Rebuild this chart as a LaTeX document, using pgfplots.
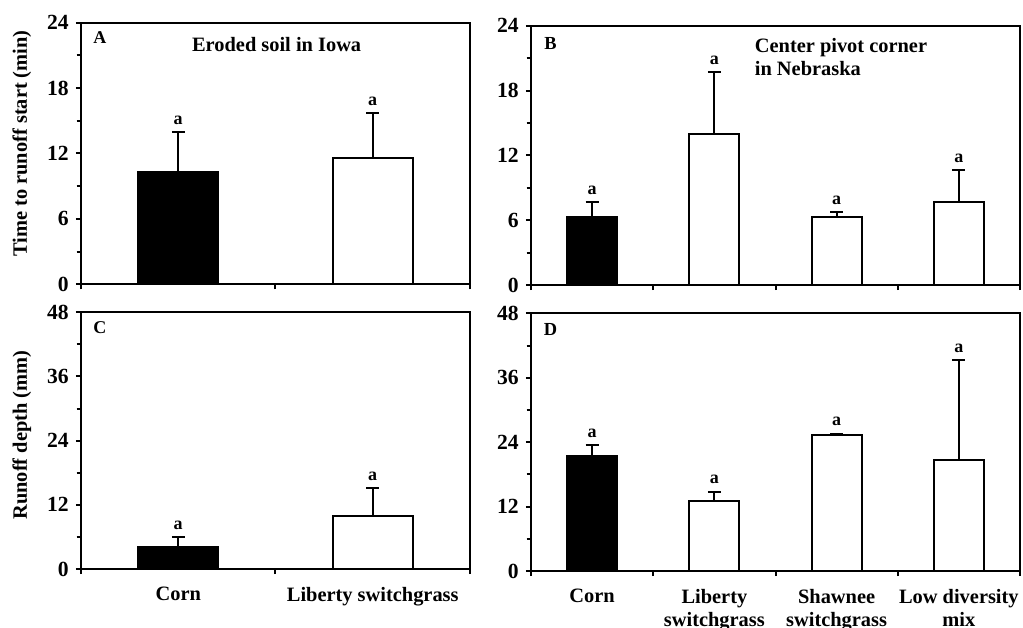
\documentclass[border=0pt]{standalone}
\usepackage{fontspec}
\setmainfont{Liberation Serif}
\usepackage{pgfplots}
\pgfplotsset{compat=1.18}

\newcommand{\tickfont}{\fontsize{10.8}{12}\selectfont\bfseries}
\newcommand{\txtfont}{\fontsize{10.2}{11.5}\selectfont\bfseries}

\pgfplotsset{
  panel/.style={
    scale only axis,
    clip=false,
    axis line style={line width=1pt},
    tick style={line width=1pt, black},
    tick align=outside,
    major tick length=2.6pt,
    minor tick length=2.2pt,
    xtick pos=bottom, ytick pos=left,
    minor y tick num=1,
    ymin=0,
    /pgf/number format/assume math mode=true,
    yticklabel style={font=\tickfont},
    xticklabels={},
    ylabel style={font=\txtfont, at={(axis description cs:-0.152,0.538)}, anchor=center},
    extra x tick style={major tick length=0pt, xticklabel style={font=\txtfont, align=center, anchor=north, yshift=-5.5pt}},
  },
  bars/.style={ybar, bar shift=0pt, line width=1pt, draw=black,
    error bars/y dir=plus, error bars/y explicit,
    error bars/error mark=-,
    error bars/error bar style={line width=1pt, black},
    error bars/error mark options={rotate=90, line width=1pt, mark size=3.2pt, black}},
  letters/.style={draw=none, mark=none, nodes near coords={a},
    every node near coord/.style={font=\fontsize{9}{10}\selectfont\bfseries, anchor=south, inner sep=0pt, yshift=3.5pt}},
}

\begin{document}
\begin{tikzpicture}
% Panel A
\begin{axis}[panel, at={(40.5pt,171.35pt)}, anchor=south west,
  width=194.5pt, height=130.8pt,
  xmin=-0.5, xmax=1.5, xtick={-0.5,0.5,1.5},
  ymax=24, ytick={0,6,12,18,24},
  ylabel={Time to runoff start (min)}]
\addplot[bars, bar width=40pt, fill=black] coordinates {(0,10.3) +- (0,3.65)};
\addplot[bars, bar width=40pt, fill=white] coordinates {(1,11.6) +- (0,4.1)};
\addplot[letters] coordinates {(0,13.95) (1,15.7)};
\node[anchor=north west, inner sep=0pt, font=\fontsize{9}{10}\selectfont\bfseries] at ([xshift=6pt,yshift=-4.5pt]rel axis cs:0,1) {A};
\node[anchor=center, inner sep=0pt, font=\txtfont] at (rel axis cs:0.503,0.915) {Eroded soil in Iowa};
\end{axis}

% Panel B
\begin{axis}[panel, at={(265.5pt,171pt)}, anchor=south west,
  width=244.5pt, height=129.65pt,
  xmin=-0.5, xmax=3.5, xtick={-0.5,0.5,1.5,2.5,3.5},
  ymax=24, ytick={0,6,12,18,24}]
\addplot[bars, bar width=25pt, fill=black] coordinates {(0,6.33) +- (0,1.39)};
\addplot[bars, bar width=25pt, fill=white] coordinates {(1,14.0) +- (0,5.7) (2,6.3) +- (0,0.43) (3,7.72) +- (0,2.94)};
\addplot[letters] coordinates {(0,7.72) (1,19.7) (2,6.73) (3,10.66)};
\node[anchor=north west, inner sep=0pt, font=\fontsize{9.2}{10}\selectfont\bfseries] at ([xshift=6.5pt,yshift=-5.5pt]rel axis cs:0,1) {B};
\node[anchor=north west, inner sep=0pt, align=left, font=\txtfont] at ([yshift=-6pt]rel axis cs:0.457,1) {Center pivot corner\\in Nebraska};
\end{axis}

% Panel C
\begin{axis}[panel, at={(40.5pt,29pt)}, anchor=south west,
  width=194.5pt, height=128.35pt,
  xmin=-0.5, xmax=1.5, xtick={-0.5,0.5,1.5},
  ymax=48, ytick={0,12,24,36,48},
  ylabel={Runoff depth (mm)},
  ylabel style={at={(axis description cs:-0.152,0.522)}},
  extra x ticks={0,1}, extra x tick labels={Corn,Liberty switchgrass}]
\addplot[bars, bar width=40pt, fill=black] coordinates {(0,4.18) +- (0,1.87)};
\addplot[bars, bar width=40pt, fill=white] coordinates {(1,9.86) +- (0,5.31)};
\addplot[letters] coordinates {(0,6.05) (1,15.17)};
\node[anchor=north west, inner sep=0pt, font=\fontsize{9}{10}\selectfont\bfseries] at ([xshift=6pt,yshift=-4.5pt]rel axis cs:0,1) {C};
\end{axis}

% Panel D
\begin{axis}[panel, at={(265.5pt,28pt)}, anchor=south west,
  width=244.5pt, height=128.85pt,
  xmin=-0.5, xmax=3.5, xtick={-0.5,0.5,1.5,2.5,3.5},
  ymax=48, ytick={0,12,24,36,48},
  extra x ticks={0,1,2,3},
  extra x tick labels={Corn,Liberty\\switchgrass,Shawnee\\switchgrass,Low diversity\\mix}]
\addplot[bars, bar width=25pt, fill=black] coordinates {(0,21.5) +- (0,2.0)};
\addplot[bars, bar width=25pt, fill=white] coordinates {(1,12.95) +- (0,1.85) (2,25.4) +- (0,0.2) (3,20.7) +- (0,18.6)};
\addplot[letters] coordinates {(0,23.5) (1,14.8) (2,25.6) (3,39.3)};
\node[anchor=north west, inner sep=0pt, font=\fontsize{9.2}{10}\selectfont\bfseries] at ([xshift=6.2pt,yshift=-5pt]rel axis cs:0,1) {D};
\end{axis}

\pgfresetboundingbox
\path[use as bounding box] (0,0) rectangle (511.5pt,313.5pt);
\end{tikzpicture}
\end{document}
